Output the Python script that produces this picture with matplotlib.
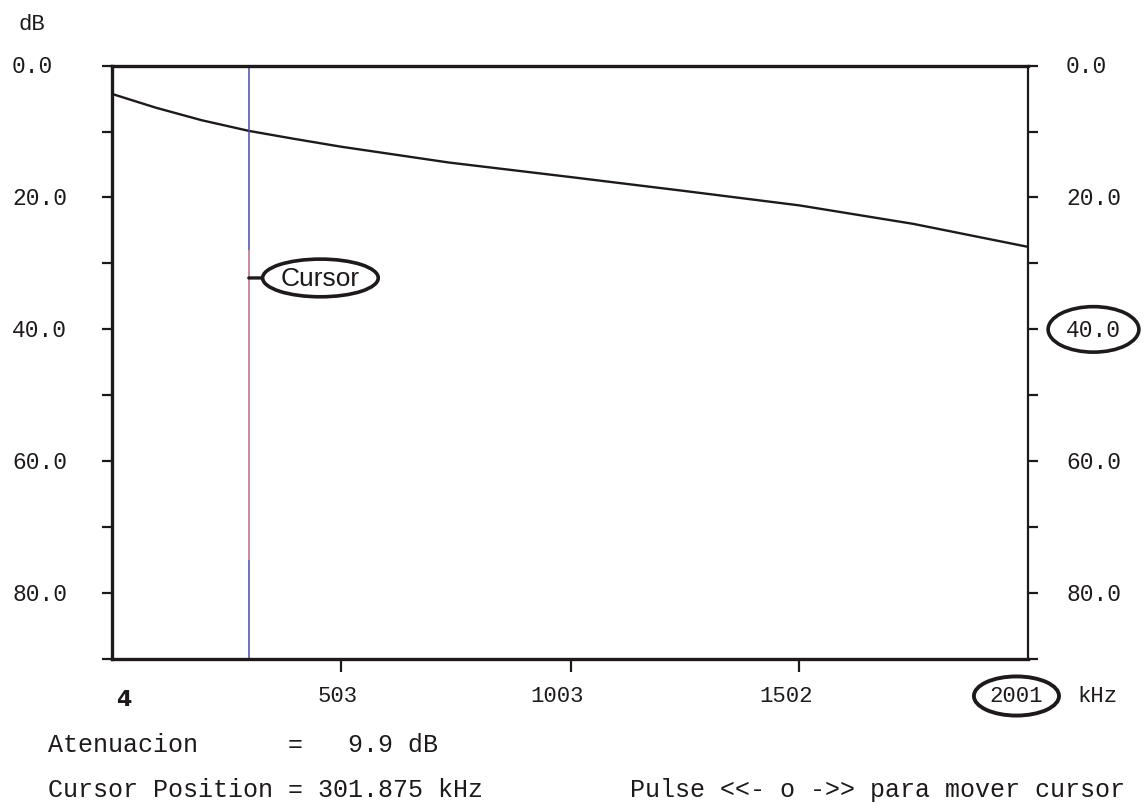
import matplotlib
matplotlib.use("Agg")
import matplotlib.pyplot as plt
import matplotlib.transforms as mtransforms

freq_khz = [4, 100, 200, 302, 400, 503, 738, 1003, 1250, 1502, 1750, 2001]
aten_db = [4.3, 6.4, 8.3, 9.9, 11.1, 12.3, 14.7, 16.9, 19.0, 21.2, 24.0, 27.5]

y_ticks = [0, 20, 40, 60, 80]
y_minor = [10, 30, 50, 70, 90]
x_ticks = [4, 503, 1003, 1502, 2001]
x_minor = [503, 1003, 1502]

cursor_khz = 301.875
cursor_db = 9.9

mono = "Liberation Mono"
ink = "#1e1a1a"
W, H = 1144, 812

fig = plt.figure(figsize=(W / 100, H / 100), dpi=100)
ax = fig.add_axes([0.098, 0.187, 0.801, 0.731])

ax.plot(freq_khz, aten_db, color=ink, lw=1.7)
# cursor: azul arriba y abajo, tono rosado en el medio
ax.vlines(cursor_khz, 0, 28, color="#4a4aa8", lw=1.1)
ax.vlines(cursor_khz, 28, 75, color="#b86a8c", lw=1.1)
ax.vlines(cursor_khz, 75, 90, color="#4a4aa8", lw=1.1)

ax.set_xlim(4, 2001)
ax.set_ylim(90, 0)

for s in ["left", "top", "bottom"]:
    ax.spines[s].set_linewidth(2.4)
    ax.spines[s].set_color(ink)
ax.spines["right"].set_linewidth(1.6)
ax.spines["right"].set_color(ink)

ax.set_yticks(y_ticks)
ax.set_yticks(y_minor, minor=True)
ax.tick_params(axis="y", which="both", direction="out", length=7, width=1.6,
               left=True, right=True, labelleft=False, labelright=False, color=ink)

ax.set_xticks(x_minor)
ax.tick_params(axis="x", which="both", length=9, width=1.6, color=ink,
               direction="out", labelbottom=False)

# etiquetas del eje y (alineadas a la izquierda, como en la pantalla)
ty = mtransforms.blended_transform_factory(fig.transFigure, ax.transData)
ell = dict(boxstyle="ellipse,pad=0.2", fc="white", ec=ink, lw=2.6)
for v in y_ticks:
    ax.text(12 / W, v, "%.1f" % v, transform=ty, ha="left", va="center",
            fontsize=16.5, family=mono, color=ink)
    ax.text(1066 / W, v, "%.1f" % v, transform=ty, ha="left", va="center",
            fontsize=16.5, family=mono, color=ink,
            bbox=ell if v == 40 else None)

# etiquetas del eje x
tx = mtransforms.blended_transform_factory(ax.transData, fig.transFigure)
x_shift = [12, -3, -13, -13, -12]
for v, dx in zip(x_ticks, x_shift):
    if v == 4:
        ax.annotate(str(v), xy=(v, 1 - 700 / H), xycoords=tx, xytext=(dx * 0.72, 0),
                    textcoords="offset points", ha="center", va="center",
                    fontsize=16, family="DejaVu Sans", fontweight="bold", color=ink)
    else:
        ax.annotate(str(v), xy=(v, 1 - 697 / H), xycoords=tx, xytext=(dx * 0.72, 0),
                    textcoords="offset points", ha="center", va="center",
                    fontsize=16, family=mono, color=ink,
                    bbox=dict(boxstyle="ellipse,pad=0.15", fc="white", ec=ink, lw=2.8)
                    if v == 2001 else None)

ax.annotate("Cursor", xy=(cursor_khz, 32.2), xytext=(458, 32.2),
            ha="center", va="center", fontsize=19, family="Liberation Sans",
            color=ink, bbox=dict(boxstyle="ellipse,pad=0.05", fc="white", ec=ink, lw=2.6),
            arrowprops=dict(arrowstyle="-", color=ink, lw=2.4, shrinkA=0, shrinkB=0))

fig.text(18 / W, 1 - 25 / H, "dB", fontsize=16, family=mono, color=ink, va="center")
fig.text(1097 / W, 1 - 697 / H, "kHz", fontsize=16, family=mono, color=ink,
         va="center", ha="center")

fig.text(48 / W, 1 - 745 / H, "Atenuacion      =   %.1f dB" % cursor_db,
         fontsize=18, family=mono, color=ink, va="center")
fig.text(48 / W, 1 - 790 / H, "Cursor Position = %.3f kHz" % cursor_khz,
         fontsize=18, family=mono, color=ink, va="center")
fig.text(1125 / W, 1 - 790 / H, "Pulse <<- o ->> para mover cursor",
         fontsize=18, family=mono, color=ink, va="center", ha="right")

fig.savefig("out.png", dpi=100)
